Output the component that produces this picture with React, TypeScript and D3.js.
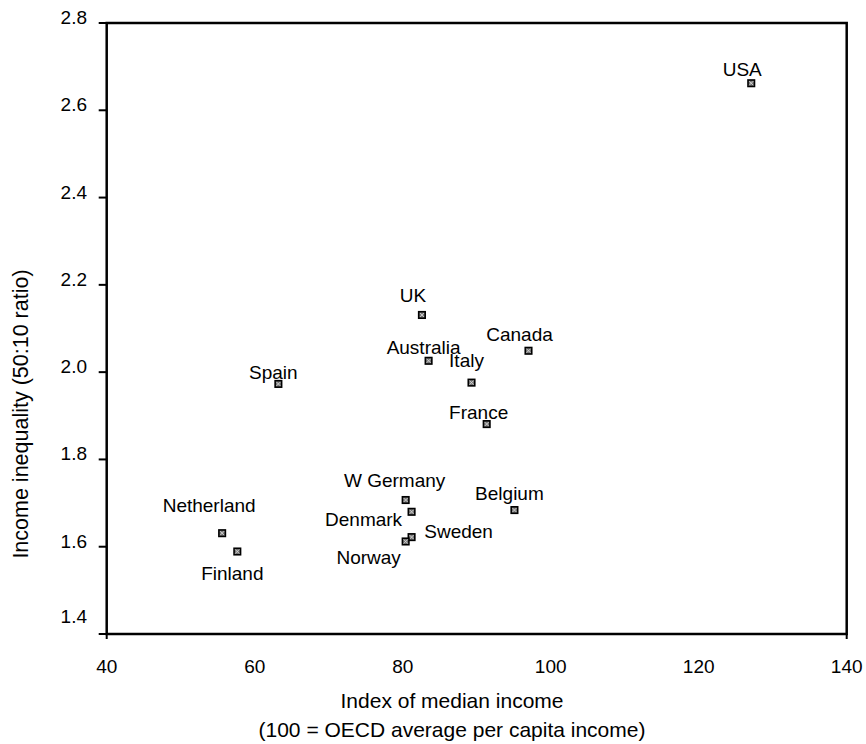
import React from "react";
import * as d3 from "d3";

const countries = ["USA", "UK", "Australia", "Italy", "Canada", "France", "Spain", "W Germany", "Denmark", "Sweden", "Norway", "Belgium", "Netherland", "Finland"];
const medianIncome = [127.1, 82.6, 83.5, 89.3, 97.0, 91.35, 63.2, 80.4, 81.2, 81.2, 80.4, 95.1, 55.6, 57.65];
const inequality = [2.662, 2.131, 2.026, 1.976, 2.049, 1.881, 1.973, 1.707, 1.68, 1.622, 1.612, 1.684, 1.631, 1.589];
const xTicks = [40, 60, 80, 100, 120, 140];
const yTicks = [1.4, 1.6, 1.8, 2.0, 2.2, 2.4, 2.6, 2.8];
const xTitle = ["Index of median income", "(100 = OECD average per capita income)"];
const yTitle = "Income inequality (50:10 ratio)";

// label placement (offset from marker, in px: text centre x, baseline y)
const labelOffsets: [number, number][] = [
  [-9, -7], [-9, -13], [-5, -7], [-5, -16], [-9, -10], [-8, -5], [-5, -5],
  [-11, -13], [-48, 14], [47, 1], [-37, 23], [-5, -10], [-13, -21], [-5, 28],
];

const W = 866, H = 744;
const left = 106.7, right = 846.7, top = 23, bottom = 634;
const FONT = "'Liberation Sans', Arial, Helvetica, sans-serif";

export default function App() {
  const x = d3.scaleLinear().domain([40, 140]).range([left, right]);
  const y = d3.scaleLinear().domain([1.4, 2.8]).range([bottom, top]);
  const ms = 6.5;
  return (
    <svg width={W} height={H} style={{ position: "absolute", left: 0, top: 0, background: "#fff" }} fontFamily={FONT}>
      <rect width={W} height={H} fill="#fff" />
      {/* frame */}
      <rect x={left} y={top} width={right - left} height={bottom - top} fill="none" stroke="#000" strokeWidth={2.5} />
      <line x1={left} x2={left} y1={bottom} y2={bottom + 5} stroke="#000" strokeWidth={2} />
      <line x1={right} x2={right} y1={bottom} y2={bottom + 5} stroke="#000" strokeWidth={2} />
      {/* y ticks */}
      {yTicks.map((t) => (
        <g key={t}>
          <line x1={left - 8} x2={left} y1={y(t)} y2={y(t)} stroke="#000" strokeWidth={2} />
          <text x={87} y={t === yTicks[0] ? y(t) - 11 : y(t) + 1} textAnchor="end" fontSize={19} fill="#000">
            {t.toFixed(1)}
          </text>
        </g>
      ))}
      {/* x tick labels */}
      {xTicks.map((t) => (
        <text key={t} x={x(t)} y={bottom + 39} textAnchor="middle" fontSize={19} fill="#000">
          {t}
        </text>
      ))}
      {/* axis titles */}
      <text x={452} y={708} textAnchor="middle" fontSize={21} fill="#000">{xTitle[0]}</text>
      <text x={452} y={737} textAnchor="middle" fontSize={21} fill="#000">{xTitle[1]}</text>
      <text transform={`translate(28,414) rotate(-90)`} textAnchor="middle" fontSize={21.5} fill="#000">{yTitle}</text>
      {/* points */}
      {countries.map((c, i) => {
        const px = x(medianIncome[i]);
        const py = y(inequality[i]);
        const [dx, dy] = labelOffsets[i];
        return (
          <g key={c}>
            <rect x={px - ms / 2} y={py - ms / 2} width={ms} height={ms} fill="#777" stroke="#000" strokeWidth={1.6} />
            <path d={`M${px - 2},${py - 2}L${px + 2},${py + 2}M${px + 2},${py - 2}L${px - 2},${py + 2}`} stroke="#ddd" strokeWidth={0.8} />
            <text x={px + dx} y={py + dy} textAnchor="middle" fontSize={19} fill="#000">{c}</text>
          </g>
        );
      })}
    </svg>
  );
}
